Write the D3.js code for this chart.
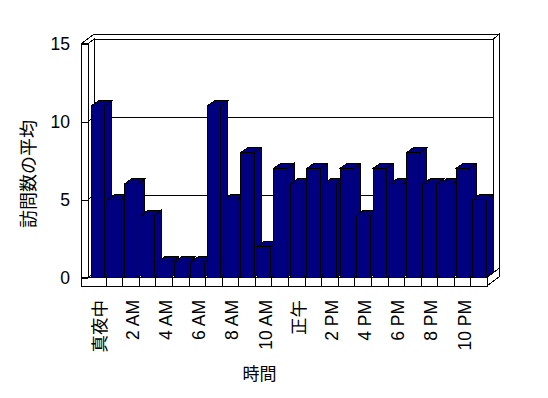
<!DOCTYPE html>
<html>
<head>
<meta charset="utf-8">
<script src="https://cdn.jsdelivr.net/npm/d3@7"></script>
<style>
  html, body { margin: 0; padding: 0; background: #ffffff; }
  svg { display: block; }
  .lbl { font-family: "Liberation Sans Narrow", "Liberation Sans", "Noto Sans CJK JP", sans-serif; fill: #000; }
</style>
</head>
<body>
<svg id="chart" width="548" height="398"></svg>
<script>
// ---- data ----
const categories = ["真夜中","1 AM","2 AM","3 AM","4 AM","5 AM","6 AM","7 AM","8 AM","9 AM","10 AM","11 AM",
                    "正午","1 PM","2 PM","3 PM","4 PM","5 PM","6 PM","7 PM","8 PM","9 PM","10 PM","11 PM"];
const visits = [11,5,6,4,1,1,1,11,5,8,2,7,6,7,6,7,4,7,6,8,6,6,7,5];
const yTickValues = [0,5,10,15];
const xTickLabels = ["真夜中","2 AM","4 AM","6 AM","8 AM","10 AM","正午","2 PM","4 PM","6 PM","8 PM","10 PM"];
const xTitle = "時間";
const yTitle = "訪問数の平均";

// ---- scales ----
const svg = d3.select("#chart");
const x = d3.scaleBand().domain(categories).range([89.5, 487.5]).padding(0);
const y = d3.scaleLinear().domain([0, 15]).range([277.5, 43.5]);

const bw = x.bandwidth();
const X0 = 81.5, XL = 88, XR = 487;
const yTop = y(15), yBase = y(0), yFloorBot = yBase + 8.5;
const P = [6.5, -4.5];   // front -> inner back wall
const D = [12.5, -9.5];  // front -> outer back
const B3 = [7, -5];      // bar depth

const frame = svg.append("g").attr("shape-rendering", "crispEdges")
  .attr("stroke", "#000").attr("stroke-width", 1).attr("fill", "#fff");
const poly = (g, pts) => g.append("polygon").attr("points", pts.map(p => p.join(",")).join(" "));

// walls and floor
poly(frame, [[X0, yTop], [X0 + D[0], yTop + D[1]], [XR + D[0], yTop + D[1]], [XR + P[0], yTop + P[1]], [XL + P[0], yTop + P[1]], [XL, yTop]]);
poly(frame, [[XR + P[0], yTop + P[1]], [XR + D[0], yTop + D[1]], [XR + D[0], yBase + D[1]], [XR + P[0], yBase + P[1]]]);
poly(frame, [[XL + P[0], yTop + P[1]], [XR + P[0], yTop + P[1]], [XR + P[0], yBase + P[1]], [XL + P[0], yBase + P[1]]]);
poly(frame, [[XL, yTop], [XL + P[0], yTop + P[1]], [XL + P[0], yBase + P[1]], [XL, yBase]]);
poly(frame, [[X0, yTop], [XL, yTop], [XL, yBase], [X0, yBase]]);
poly(frame, [[XL, yBase], [XR, yBase], [XR + P[0], yBase + P[1]], [XL + P[0], yBase + P[1]]]);
poly(frame, [[X0, yBase], [XR, yBase], [XR, yFloorBot], [X0, yFloorBot]]);
poly(frame, [[XR, yBase], [XR, yFloorBot], [XR + D[0], yFloorBot + D[1]], [XR + D[0], yBase + D[1]]]);

// gridlines on back wall and left wall inner face
yTickValues.filter(v => v > 0 && v < 15).forEach(v => {
  frame.append("line").attr("x1", XL + P[0]).attr("x2", XR + P[0])
    .attr("y1", y(v) + P[1]).attr("y2", y(v) + P[1]);
  frame.append("line").attr("x1", XL).attr("x2", XL + P[0])
    .attr("y1", y(v)).attr("y2", y(v) + P[1]);
});

// category boundary ticks on floor front
categories.slice(1).forEach(c => {
  frame.append("line").attr("x1", x(c)).attr("x2", x(c)).attr("y1", yBase).attr("y2", yFloorBot);
});

// bars
const bars = svg.append("g").attr("shape-rendering", "crispEdges")
  .attr("stroke", "#000").attr("stroke-width", 1).attr("fill", "#000080");
categories.forEach((c, i) => {
  const v = visits[i];
  const x0 = x(c) + bw * 0.11, x1 = x0 + bw * 0.81;
  const yt = y(v), yb = y(0);
  const g = bars.append("g");
  poly(g, [[x1, yt], [x1 + B3[0], yt + B3[1]], [x1 + B3[0], yb + B3[1]], [x1, yb]]);
  poly(g, [[x0, yt], [x1, yt], [x1 + B3[0], yt + B3[1]], [x0 + B3[0], yt + B3[1]]]);
  g.append("rect").attr("x", x0).attr("y", yt).attr("width", x1 - x0).attr("height", yb - yt);
});

// y axis
const yAxis = svg.append("g").attr("transform", `translate(${XL},0)`)
  .call(d3.axisLeft(y).tickValues(yTickValues).tickSize(XL - X0).tickPadding(11.5).tickFormat(d3.format("d")));
yAxis.select(".domain").remove();
yAxis.selectAll("line").attr("stroke", "#000").attr("shape-rendering", "crispEdges");
yAxis.selectAll("text").attr("class", "lbl").style("font-size", "17.5px").attr("font-family", null);

// x axis labels
const xAxis = svg.append("g").attr("transform", `translate(0,${yFloorBot})`)
  .call(d3.axisBottom(x).tickValues(xTickLabels).tickSize(0));
xAxis.select(".domain").remove();
xAxis.selectAll("text")
  .attr("class", "lbl").attr("font-family", null)
  .style("font-size", "17.5px")
  .attr("text-anchor", "end")
  .attr("dy", 0)
  .attr("transform", "rotate(-90)")
  .attr("x", -(300 - yFloorBot))
  .attr("y", 8);

// axis titles
svg.append("text").attr("class", "lbl").attr("x", 259.5).attr("y", 380)
  .attr("text-anchor", "middle").style("font-size", "17px").text(xTitle);
svg.append("text").attr("class", "lbl")
  .attr("transform", "translate(34.5,174) rotate(-90)")
  .attr("text-anchor", "middle").style("font-size", "18px").text(yTitle);
</script>
</body>
</html>
